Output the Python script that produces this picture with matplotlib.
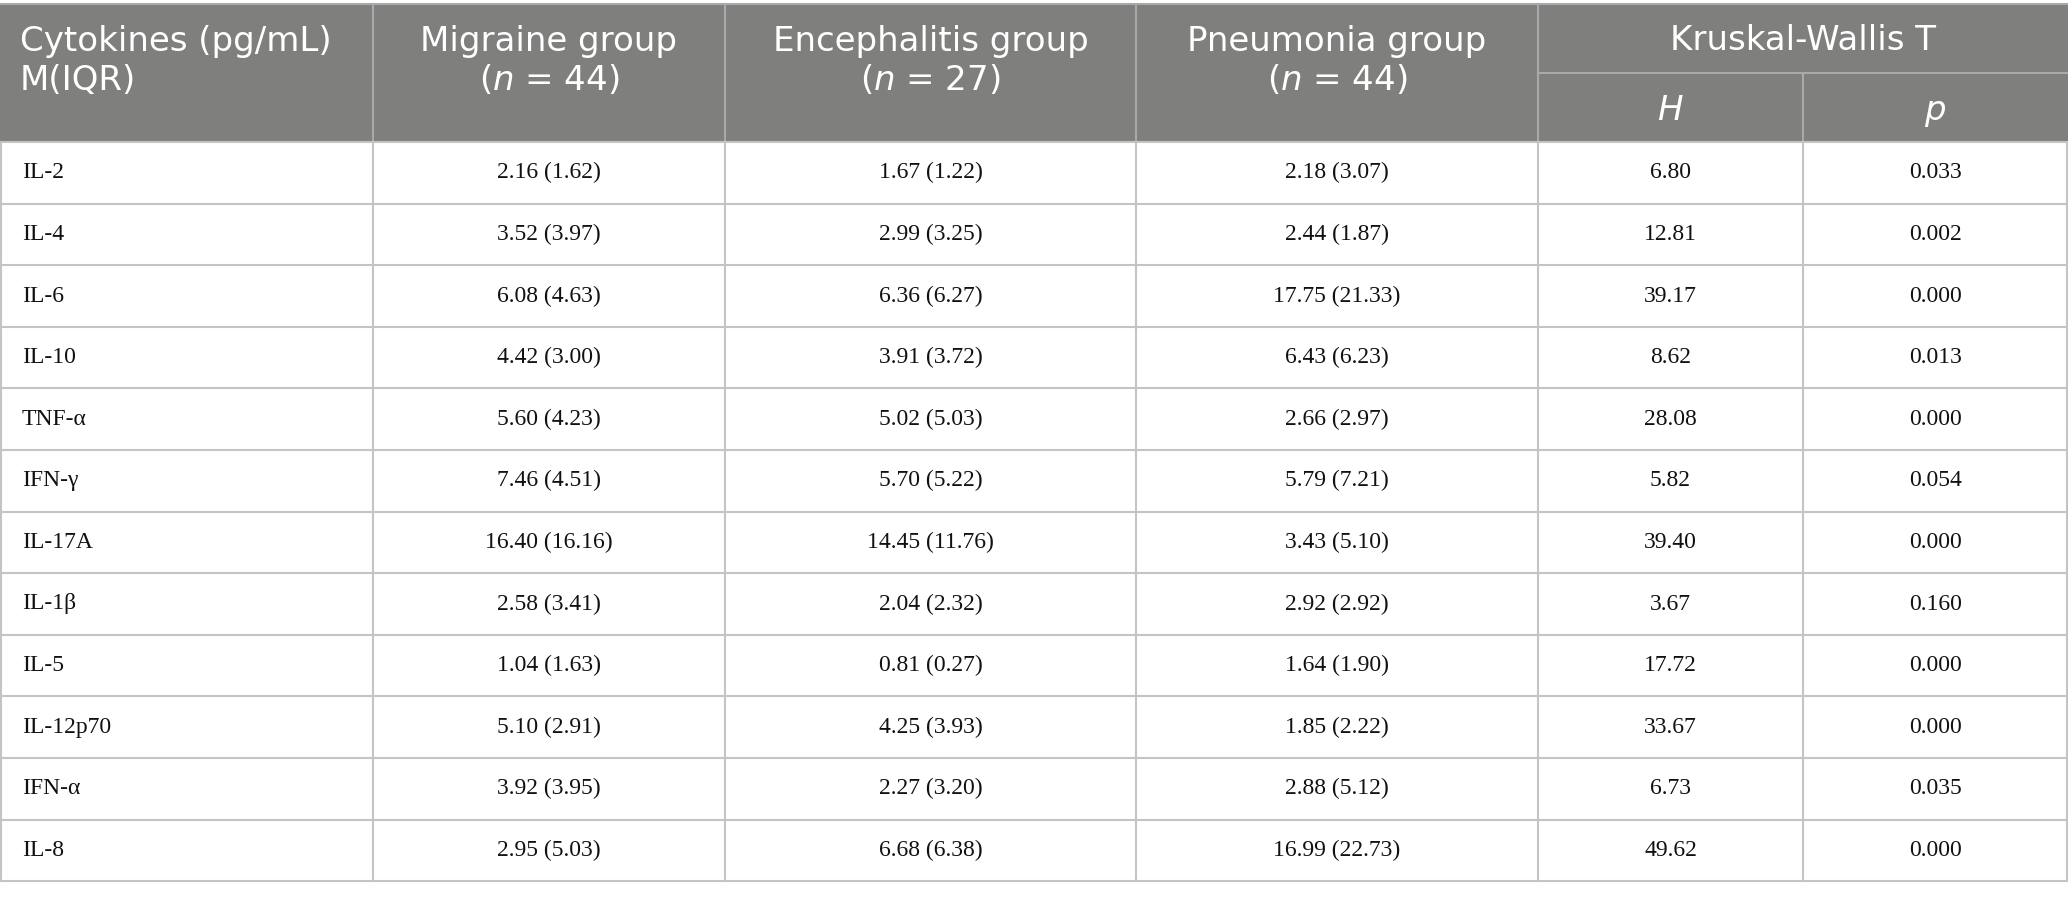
import matplotlib
matplotlib.use("Agg")
import matplotlib.pyplot as plt
from matplotlib.patches import Rectangle

# -------- DATA --------
cytokines = ["IL-2", "IL-4", "IL-6", "IL-10", "TNF-α", "IFN-γ", "IL-17A",
             "IL-1β", "IL-5", "IL-12p70", "IFN-α", "IL-8"]
migraine = ["2.16 (1.62)", "3.52 (3.97)", "6.08 (4.63)", "4.42 (3.00)",
            "5.60 (4.23)", "7.46 (4.51)", "16.40 (16.16)", "2.58 (3.41)",
            "1.04 (1.63)", "5.10 (2.91)", "3.92 (3.95)", "2.95 (5.03)"]
encephalitis = ["1.67 (1.22)", "2.99 (3.25)", "6.36 (6.27)", "3.91 (3.72)",
                "5.02 (5.03)", "5.70 (5.22)", "14.45 (11.76)", "2.04 (2.32)",
                "0.81 (0.27)", "4.25 (3.93)", "2.27 (3.20)", "6.68 (6.38)"]
pneumonia = ["2.18 (3.07)", "2.44 (1.87)", "17.75 (21.33)", "6.43 (6.23)",
             "2.66 (2.97)", "5.79 (7.21)", "3.43 (5.10)", "2.92 (2.92)",
             "1.64 (1.90)", "1.85 (2.22)", "2.88 (5.12)", "16.99 (22.73)"]
h_values = ["6.80", "12.81", "39.17", "8.62", "28.08", "5.82", "39.40",
            "3.67", "17.72", "33.67", "6.73", "49.62"]
p_values = ["0.033", "0.002", "0.000", "0.013", "0.000", "0.054", "0.000",
            "0.160", "0.000", "0.000", "0.035", "0.000"]

group_headers = ["Migraine group", "Encephalitis group", "Pneumonia group"]
group_n = ["44", "27", "44"]

# -------- FONTS --------
plt.rcParams["mathtext.fontset"] = "custom"
plt.rcParams["mathtext.rm"] = "DejaVu Sans"
plt.rcParams["mathtext.it"] = "DejaVu Sans:italic"
head_font = dict(family="DejaVu Sans", size=24.5, color="white")
body_font = dict(family="Liberation Serif", size=17, color="#111111")

# -------- LAYOUT --------
W, H = 2068, 899
fig = plt.figure(figsize=(W / 100, H / 100), dpi=100)
ax = fig.add_axes([0, 0, 1, 1])
ax.set_xlim(0, W)
ax.set_ylim(H, 0)
ax.axis("off")

col_edges = [0, 373, 725, 1136, 1538, 1803, 2068]
top, sub, head_bot = 4, 73, 142
row_h = 61.6
bottom = head_bot + row_h * len(cytokines)

head_bg = "#7f807e"
head_line = "#a9a9a9"
body_line = "#c4c4c4"

# header background
ax.add_patch(Rectangle((0, top), W, head_bot - top, color=head_bg, lw=0))

# header lines
ax.plot([0, W], [top, top], color=head_line, lw=1.5)
for x in col_edges[1:5]:
    ax.plot([x, x], [top, head_bot], color=head_line, lw=1.5)
ax.plot([col_edges[4], W], [sub, sub], color=head_line, lw=1.5)
ax.plot([col_edges[5], col_edges[5]], [sub, head_bot], color=head_line, lw=1.5)

# header text
line1, line2 = 51, 90
ax.text(20, line1, "Cytokines (pg/mL)", ha="left", va="baseline", **head_font)
ax.text(20, line2, "M(IQR)", ha="left", va="baseline", **head_font)
for i, (name, n) in enumerate(zip(group_headers, group_n)):
    cx = (col_edges[i + 1] + col_edges[i + 2]) / 2
    ax.text(cx, line1, name, ha="center", va="baseline", **head_font)
    ax.text(cx, line2, "($n$ = " + n + ")", ha="center", va="baseline", **head_font)
ax.text((col_edges[4] + col_edges[6]) / 2, 50, "Kruskal-Wallis T",
        ha="center", va="baseline", **head_font)
ax.text((col_edges[4] + col_edges[5]) / 2, 120, "$H$", ha="center", va="baseline", **head_font)
ax.text((col_edges[5] + col_edges[6]) / 2, 120, "$p$", ha="center", va="baseline", **head_font)

# body lines
for i in range(len(cytokines) + 1):
    y = head_bot + i * row_h
    ax.plot([0, W], [y, y], color=body_line, lw=1.5)
for x in [1] + col_edges[1:6] + [W - 1]:
    ax.plot([x, x], [head_bot, bottom], color=body_line, lw=1.5)

# body text
columns = [migraine, encephalitis, pneumonia, h_values, p_values]
for r, name in enumerate(cytokines):
    cy = head_bot + (r + 0.5) * row_h
    ax.text(22, cy, name, ha="left", va="center", **body_font)
    for c, vals in enumerate(columns):
        cx = (col_edges[c + 1] + col_edges[c + 2]) / 2
        ax.text(cx, cy, vals[r], ha="center", va="center", **body_font)

fig.savefig("out.png", dpi=100)
